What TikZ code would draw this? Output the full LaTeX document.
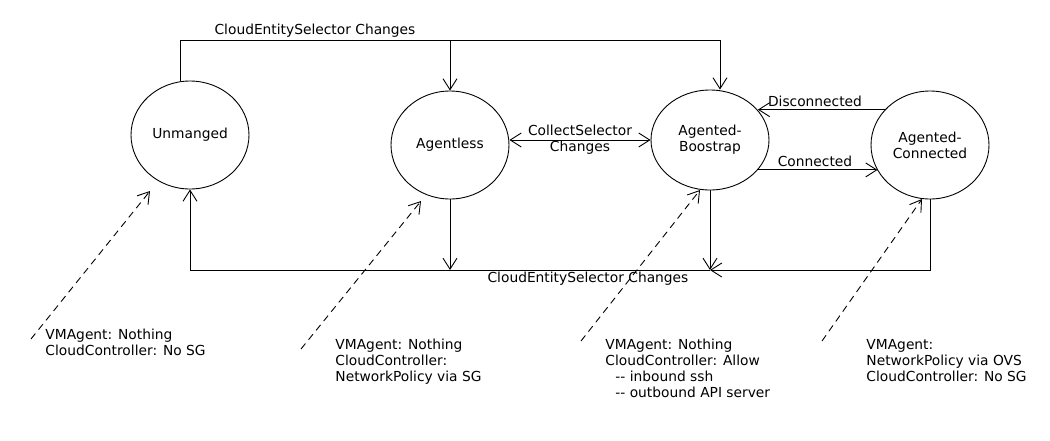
\documentclass[tikz,border=0pt]{standalone}
\usepackage{fontspec}
\setmainfont{DejaVu Sans}
\usetikzlibrary{arrows.meta,shapes.geometric}

\begin{document}
\begin{tikzpicture}[x=1pt, y=-1pt, line width=0.9pt,
    state/.style={ellipse, draw, minimum width=118pt, minimum height=108pt, inner sep=0pt, align=center, font=\fontsize{13.8}{16}\selectfont},
    note/.style={anchor=base west, align=left, inner sep=0pt, font=\fontsize{13.8}{16}\selectfont},
    lbl/.style={inner sep=0pt, align=center, font=\fontsize{13.8}{16}\selectfont},
    dashline/.style={dash pattern=on 7pt off 5pt},
    >={Straight Barb[length=11pt,width=14pt]}]
     \useasboundingbox (0,0) rectangle (1050,440);

     \node[state] (unm)  at (190,135) {Unmanged};
     \node[state] (agl)  at (450,145) {Agentless};
     \node[state, minimum height=100pt] (boot) at (710,140) {Agented-\\Boostrap};
     \node[state] (conn) at (930,145) {Agented-\\Connected};

     % top edge
     \coordinate (topR) at (720,40);
     \draw[->] (unm.100) |- (topR) -- (topR |- boot.north);
     \draw[->] (agl.north |- topR) -- (agl.north);
     \node[lbl] (topLbl) at (315,31) {CloudEntitySelector Changes};

     % bottom edge
     \coordinate (botL) at (190,270);
     \draw[->] (agl.south) -- (agl.south |- botL);
     \draw[->] (boot.south) -- (boot.south |- botL);
     \draw[->] (conn.south) |- (boot.south |- botL);
     \draw[->] (boot.south |- botL) -| (unm.south);
     \node[lbl] (botLbl) at (588,279) {CloudEntitySelector Changes};

     \draw[<->] (agl.east |- boot.west) -- node[lbl] (colLbl) {CollectSelector\\Changes} (boot.west);
     \draw[->] (conn.142) -- (conn.142 -| boot.32);
     \node[lbl] (disLbl) at (815,101) {Disconnected};
     \draw[->] (boot.-32) -- (boot.-32 -| conn.-154);
     \node[lbl] (conLbl) at (815,161) {Connected};

     % notes (placed by the baseline of their last line)
     \node[note] (vmU) at (45,355) {VMAgent: Nothing\\CloudController: No SG};
     \node[note] (vmA) at (335,381) {VMAgent: Nothing\\CloudController:\\NetworkPolicy via SG};
     \node[note] (vmB) at (605,397) {VMAgent: Nothing\\CloudController: Allow\\\hspace{10pt}-{}- inbound ssh\\\hspace{10pt}-{}- outbound API server};
     \node[note] (vmC) at (866,381) {VMAgent:\\NetworkPolicy via OVS\\CloudController: No SG};

     \coordinate (sU) at (31,339);  \coordinate (eU) at (150,191);
     \coordinate (sA) at (301,349); \coordinate (eA) at (421,201);
     \coordinate (sB) at (581,341); \coordinate (eB) at (700,190);
     \coordinate (sC) at (822,341); \coordinate (eC) at (922,199);
     \draw[dashline,->] (sU) -- (eU);
     \draw[dashline,->] (sA) -- (eA);
     \draw[dashline,->] (sB) -- (eB);
     \draw[dashline,->] (sC) -- (eC);
\end{tikzpicture}
\end{document}
